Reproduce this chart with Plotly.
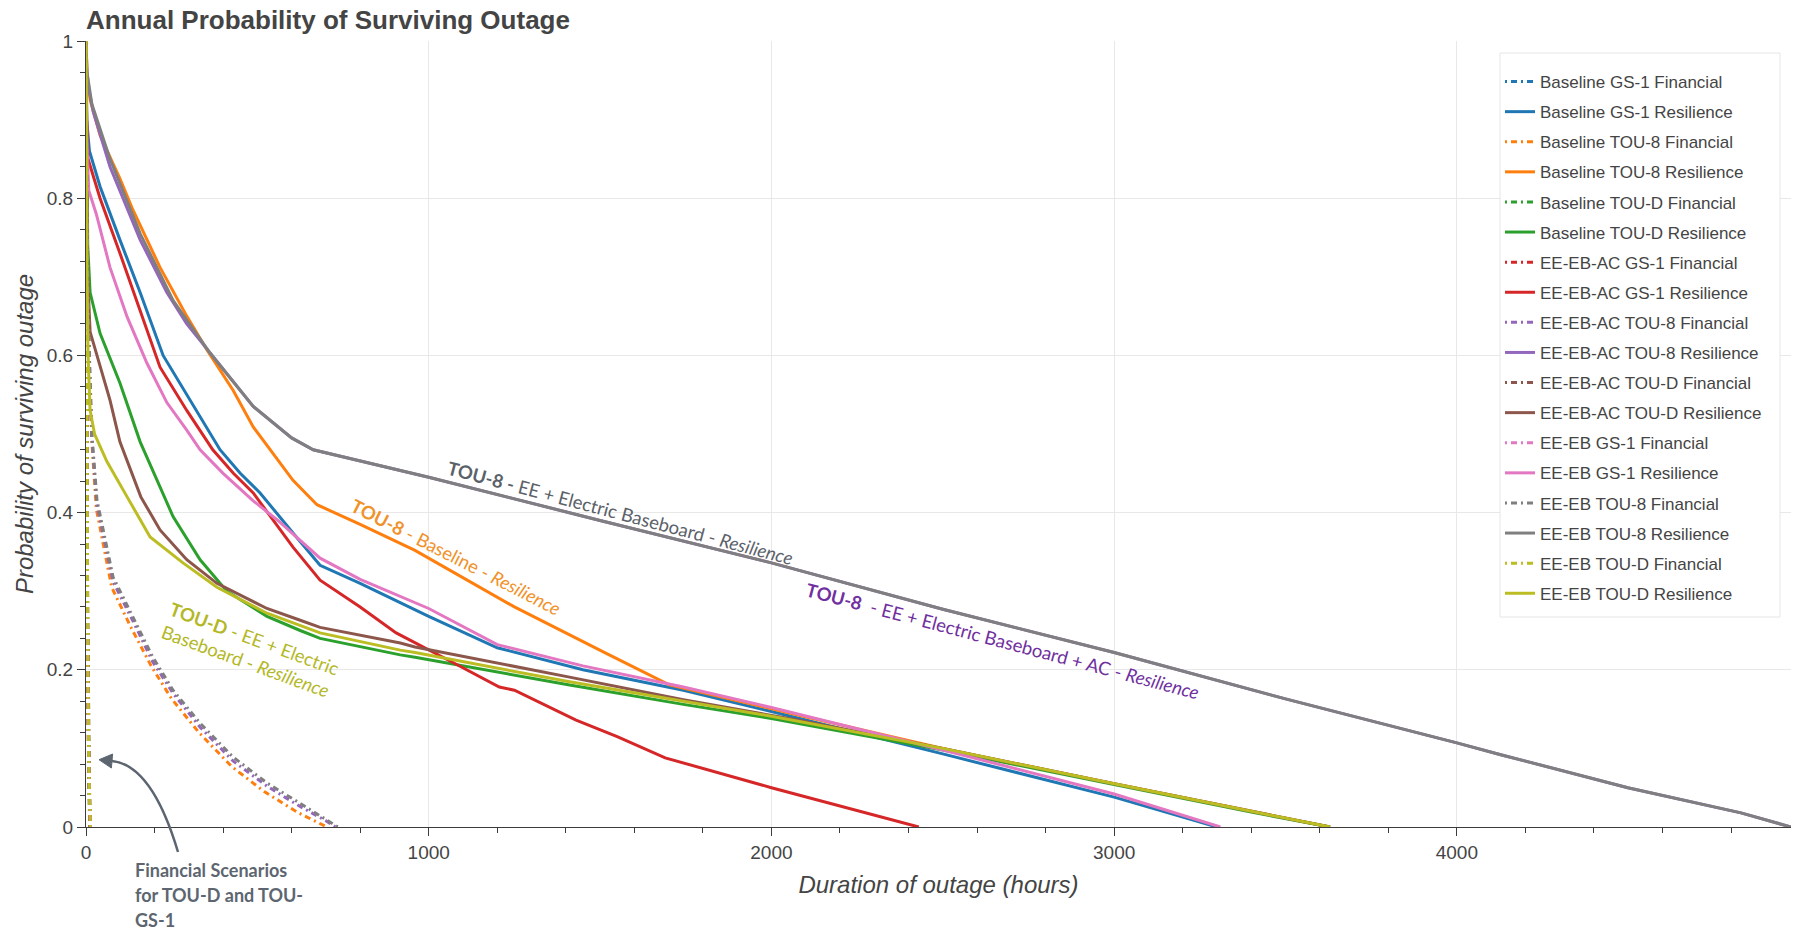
import plotly.graph_objects as go

# ---------------- data: outage duration (hours) vs probability of surviving ----------------
baseline_gs1_fin_h = [0, 1, 2, 4, 6, 9, 12]
baseline_gs1_fin_p = [1, 0.70, 0.50, 0.30, 0.15, 0.05, 0]
baseline_gs1_res_h = [0, 2, 10, 41, 99, 158, 225, 294, 391, 450, 508, 604, 683, 800, 917, 1000,
                      1200, 1450, 1743, 2000, 2500, 3000, 3300]
baseline_gs1_res_p = [1, 0.90, 0.86, 0.815, 0.747, 0.68, 0.60, 0.55, 0.48, 0.45, 0.425, 0.374, 0.333,
                      0.31, 0.285, 0.268, 0.228, 0.20, 0.174, 0.147, 0.093, 0.038, 0]

baseline_tou8_fin_h = [0, 2, 5, 10, 17, 30, 75, 130, 190, 250, 330, 425, 520, 620, 703]
baseline_tou8_fin_p = [1, 0.78, 0.68, 0.58, 0.49, 0.405, 0.305, 0.255, 0.205, 0.163, 0.12, 0.077,
                       0.045, 0.018, 0]
baseline_tou8_res_h = [0, 3, 12, 41, 99, 137, 216, 294, 353, 430, 488, 604, 674, 800, 960, 1250,
                       1518, 1702, 2111, 2500, 3000, 3400, 3630]
baseline_tou8_res_p = [1, 0.96, 0.925, 0.88, 0.825, 0.785, 0.712, 0.65, 0.607, 0.555, 0.509, 0.441,
                       0.41, 0.385, 0.352, 0.28, 0.221, 0.181, 0.139, 0.10, 0.055, 0.02, 0]

baseline_toud_fin_h = [0, 1, 2, 3, 5, 8, 11]
baseline_toud_fin_p = [1, 0.72, 0.55, 0.38, 0.20, 0.06, 0]
baseline_toud_res_h = [0, 2, 5, 12, 41, 99, 158, 254, 333, 411, 528, 625, 683, 917, 960, 1407,
                       1743, 2000, 2500, 3000, 3400, 3630]
baseline_toud_res_p = [1, 0.85, 0.74, 0.68, 0.628, 0.565, 0.49, 0.395, 0.34, 0.30, 0.268, 0.25,
                       0.24, 0.219, 0.216, 0.181, 0.156, 0.138, 0.098, 0.054, 0.019, 0]

eeebac_gs1_fin_h = [0, 1, 2, 4, 6, 8, 11]
eeebac_gs1_fin_p = [1, 0.68, 0.48, 0.28, 0.14, 0.05, 0]
eeebac_gs1_res_h = [0, 2, 6, 41, 99, 158, 216, 294, 370, 430, 488, 604, 683, 800, 905, 1072, 1206,
                    1250, 1430, 1550, 1690, 2000, 2200, 2430]
eeebac_gs1_res_p = [1, 0.90, 0.85, 0.80, 0.73, 0.658, 0.585, 0.53, 0.48, 0.45, 0.425, 0.356, 0.314,
                    0.28, 0.247, 0.209, 0.178, 0.174, 0.136, 0.115, 0.088, 0.05, 0.027, 0]

eeebac_tou8_fin_h = [0, 2, 5, 10, 17, 32, 79, 137, 195, 254, 333, 429, 528, 625, 700, 728]
eeebac_tou8_fin_p = [1, 0.79, 0.69, 0.59, 0.495, 0.41, 0.312, 0.262, 0.21, 0.17, 0.127, 0.084,
                     0.052, 0.026, 0.008, 0]
eeebac_tou8_res_h = [0, 3, 21, 70, 158, 236, 294, 362, 488, 600, 663, 1000, 1500, 2000, 2368, 2500,
                     3000, 3398, 3500, 4000, 4128, 4499, 4829, 4975]
eeebac_tou8_res_p = [1, 0.95, 0.91, 0.84, 0.747, 0.68, 0.64, 0.603, 0.535, 0.495, 0.48, 0.445,
                     0.39, 0.336, 0.293, 0.277, 0.222, 0.175, 0.163, 0.107, 0.092, 0.05, 0.018, 0]

eeebac_toud_fin_h = [0, 1, 3, 5, 7, 10, 13]
eeebac_toud_fin_p = [1, 0.70, 0.45, 0.28, 0.15, 0.05, 0]
eeebac_toud_res_h = [0, 2, 5, 12, 41, 70, 99, 160, 216, 294, 382, 528, 625, 683, 917, 960, 1407,
                     1743, 2076, 2500, 3000, 3400, 3630]
eeebac_toud_res_p = [1, 0.85, 0.70, 0.63, 0.585, 0.543, 0.49, 0.42, 0.378, 0.34, 0.31, 0.278, 0.263,
                     0.254, 0.234, 0.229, 0.191, 0.162, 0.136, 0.10, 0.055, 0.02, 0]

eeeb_gs1_fin_h = [0, 1, 2, 4, 6, 9, 12]
eeeb_gs1_fin_p = [1, 0.66, 0.46, 0.27, 0.13, 0.04, 0]
eeeb_gs1_res_h = [0, 2, 8, 30, 70, 120, 178, 236, 294, 333, 400, 488, 560, 625, 683, 800, 917, 1000,
                  1200, 1450, 1743, 2000, 2500, 3000, 3310]
eeeb_gs1_res_p = [1, 0.88, 0.81, 0.78, 0.712, 0.649, 0.59, 0.54, 0.505, 0.48, 0.45, 0.415, 0.39,
                  0.365, 0.342, 0.315, 0.293, 0.278, 0.232, 0.205, 0.178, 0.152, 0.098, 0.042, 0]

eeeb_tou8_fin_h = [0, 2, 5, 10, 17, 32, 79, 137, 195, 254, 333, 429, 528, 625, 700, 735]
eeeb_tou8_fin_p = [1, 0.80, 0.70, 0.60, 0.50, 0.416, 0.318, 0.267, 0.216, 0.174, 0.132, 0.089,
                   0.056, 0.03, 0.01, 0]
eeeb_tou8_res_h = [0, 3, 17, 70, 158, 254, 362, 488, 600, 663, 1000, 1500, 2000, 2368, 2500, 3000,
                   3398, 3500, 4000, 4128, 4499, 4829, 4975]
eeeb_tou8_res_p = [1, 0.96, 0.92, 0.85, 0.755, 0.67, 0.603, 0.535, 0.495, 0.48, 0.445, 0.39, 0.336,
                   0.293, 0.277, 0.222, 0.175, 0.163, 0.107, 0.092, 0.05, 0.018, 0]

eeeb_toud_fin_h = [0, 1, 2, 4, 6, 9, 13]
eeeb_toud_fin_p = [1, 0.74, 0.56, 0.34, 0.18, 0.06, 0]
eeeb_toud_res_h = [0, 1, 3, 6, 12, 25, 61, 120, 187, 283, 382, 528, 683, 917, 960, 1407, 1743, 2000,
                   2500, 3000, 3400, 3630]
eeeb_toud_res_p = [1, 0.85, 0.70, 0.60, 0.53, 0.50, 0.465, 0.42, 0.369, 0.336, 0.305, 0.272, 0.247,
                   0.225, 0.222, 0.185, 0.16, 0.141, 0.10, 0.055, 0.02, 0]

series = [
    ("Baseline GS-1 Financial", baseline_gs1_fin_h, baseline_gs1_fin_p, "#1f77b4", True),
    ("Baseline GS-1 Resilience", baseline_gs1_res_h, baseline_gs1_res_p, "#1f77b4", False),
    ("Baseline TOU-8 Financial", baseline_tou8_fin_h, baseline_tou8_fin_p, "#ff7f0e", True),
    ("Baseline TOU-8 Resilience", baseline_tou8_res_h, baseline_tou8_res_p, "#ff7f0e", False),
    ("Baseline TOU-D Financial", baseline_toud_fin_h, baseline_toud_fin_p, "#2ca02c", True),
    ("Baseline TOU-D Resilience", baseline_toud_res_h, baseline_toud_res_p, "#2ca02c", False),
    ("EE-EB-AC GS-1 Financial", eeebac_gs1_fin_h, eeebac_gs1_fin_p, "#d62728", True),
    ("EE-EB-AC GS-1 Resilience", eeebac_gs1_res_h, eeebac_gs1_res_p, "#d62728", False),
    ("EE-EB-AC TOU-8 Financial", eeebac_tou8_fin_h, eeebac_tou8_fin_p, "#9467bd", True),
    ("EE-EB-AC TOU-8 Resilience", eeebac_tou8_res_h, eeebac_tou8_res_p, "#9467bd", False),
    ("EE-EB-AC TOU-D Financial", eeebac_toud_fin_h, eeebac_toud_fin_p, "#8c564b", True),
    ("EE-EB-AC TOU-D Resilience", eeebac_toud_res_h, eeebac_toud_res_p, "#8c564b", False),
    ("EE-EB GS-1 Financial", eeeb_gs1_fin_h, eeeb_gs1_fin_p, "#e377c2", True),
    ("EE-EB GS-1 Resilience", eeeb_gs1_res_h, eeeb_gs1_res_p, "#e377c2", False),
    ("EE-EB TOU-8 Financial", eeeb_tou8_fin_h, eeeb_tou8_fin_p, "#7f7f7f", True),
    ("EE-EB TOU-8 Resilience", eeeb_tou8_res_h, eeeb_tou8_res_p, "#7f7f7f", False),
    ("EE-EB TOU-D Financial", eeeb_toud_fin_h, eeeb_toud_fin_p, "#bcbd22", True),
    ("EE-EB TOU-D Resilience", eeeb_toud_res_h, eeeb_toud_res_p, "#bcbd22", False),
]

# ---------------- page geometry ----------------
W, H = 1799, 932
ML, MR, MT, MB = 86, 8, 41, 105
PW, PH = W - ML - MR, H - MT - MB


def px_to_paper(px, py):
    return (px - ML) / PW, (H - MB - py) / PH


AXIS_FONT = "Liberation Sans, Arial, Helvetica, sans-serif"
NOTE_FONT = "Lato, Open Sans, sans-serif"

fig = go.Figure()
for i, (name, hrs, prob, color, financial) in enumerate(series):
    fig.add_trace(go.Scatter(
        x=hrs, y=prob, name=name, mode="lines", legendgroup=f"g{i}",
        line=dict(color=color, width=3,
                  dash="2px,4px,6px,4px" if financial else "solid"),
    ))

x_max = max(max(s[1]) for s in series)

fig.update_layout(
    width=W, height=H,
    margin=dict(l=ML, r=MR, t=MT, b=MB, pad=0),
    paper_bgcolor="white", plot_bgcolor="white",
    title=dict(text="<b>Annual Probability of Surviving Outage</b>",
               x=0, xref="paper", xanchor="left",
               y=1 - 20 / H, yref="container", yanchor="middle",
               font=dict(family=AXIS_FONT, size=26, color="#444444")),
    showlegend=True,
    legend=dict(x=px_to_paper(1500, 0)[0], y=px_to_paper(0, 64)[1],
                xanchor="left", yanchor="top",
                bgcolor="rgba(0,0,0,0)", borderwidth=0,
                font=dict(family=AXIS_FONT, size=17, color="#444444"),
                tracegroupgap=5, traceorder="grouped"),
    xaxis=dict(
        range=[0, x_max], showline=True, linecolor="#3c3c3c", linewidth=1.2,
        ticks="outside", ticklen=8, tickwidth=1, tickcolor="#3c3c3c",
        tickvals=[0, 1000, 2000, 3000, 4000],
        ticktext=["0", "1000", "2000", "3000", "4000"],
        tickfont=dict(family=AXIS_FONT, size=19, color="#444444"),
        showgrid=True, gridcolor="#e8e8e8", gridwidth=1, zeroline=False,
        minor=dict(dtick=200, ticks="outside", ticklen=5, tickcolor="#3c3c3c",
                   showgrid=False),
        title=dict(text="<i>Duration of outage (hours)</i>", standoff=14,
                   font=dict(family=AXIS_FONT, size=24, color="#444444")),
    ),
    yaxis=dict(
        range=[0, 1], showline=True, linecolor="#3c3c3c", linewidth=1.2,
        ticks="outside", ticklen=8, tickwidth=1, tickcolor="#3c3c3c",
        tickvals=[0, 0.2, 0.4, 0.6, 0.8, 1],
        ticktext=["0", "0.2", "0.4", "0.6", "0.8", "1"],
        tickfont=dict(family=AXIS_FONT, size=19, color="#444444"),
        showgrid=True, gridcolor="#e8e8e8", gridwidth=1, zeroline=False,
        minor=dict(dtick=0.04, ticks="outside", ticklen=5, tickcolor="#3c3c3c",
                   showgrid=False),
        title=dict(text="<i>Probability of surviving outage</i>", standoff=6,
                   font=dict(family=AXIS_FONT, size=24, color="#444444")),
    ),
)

# legend frame (white panel with a faint border)
lx0, ly0 = px_to_paper(1500, 617)
lx1, ly1 = px_to_paper(1780, 53)
fig.add_shape(type="rect", xref="paper", yref="paper", layer="above",
              x0=lx0, y0=ly0, x1=lx1, y1=ly1,
              fillcolor="white", line=dict(color="#e6e6e6", width=1))

# ---------------- in-plot labels for the curves ----------------
labels = [
    ("<b>TOU-8 -</b> EE + Electric Baseboard - <i>Resilience</i>", 1560, 0.399, 14.8, "#5b6169"),
    ("<b>TOU-8</b> - Baseline - <i>Resilience</i>", 1080, 0.344, 27, "#f0922b"),
    ("<b>TOU-8</b>\u00a0 - EE + Electric Baseboard + AC - <i>Resilience</i>", 2675, 0.237, 14.8, "#7030a0"),
    ("<b>TOU-D</b> - EE + Electric<br>Baseboard - <i>Resilience</i>", 479, 0.225, 20, "#b3b826"),
]
for text, hx, py, ang, col in labels:
    fig.add_annotation(x=hx, y=py, xref="x", yref="y", text=text, showarrow=False,
                       textangle=ang, align="left", xanchor="center", yanchor="middle",
                       font=dict(family=NOTE_FONT, size=18.5, color=col))

# note under the axis with a curved pointer to the near-vertical financial curves
note_col = "#5d6670"
for line, cy in [("Financial Scenarios", 870), ("for TOU-D and TOU-", 895), ("GS-1", 920)]:
    nx, ny = px_to_paper(133, cy)
    fig.add_annotation(x=nx, y=ny, xref="paper", yref="paper", text=f"<b>{line}</b>",
                       showarrow=False, xanchor="left", yanchor="middle",
                       font=dict(family=NOTE_FONT, size=18, color=note_col))

p0 = px_to_paper(178, 852)
pc = px_to_paper(152, 765)
p1 = px_to_paper(112, 761)
fig.add_shape(type="path", xref="paper", yref="paper", layer="above",
              path=f"M {p0[0]},{p0[1]} Q {pc[0]},{pc[1]} {p1[0]},{p1[1]}",
              line=dict(color=note_col, width=2.5))
tip = px_to_paper(99, 759.7)
b1 = px_to_paper(112.6, 754.0)
b2 = px_to_paper(111.4, 768.0)
fig.add_shape(type="path", xref="paper", yref="paper", layer="above",
              path=f"M {tip[0]},{tip[1]} L {b1[0]},{b1[1]} L {b2[0]},{b2[1]} Z",
              fillcolor=note_col, line=dict(color=note_col, width=1))

fig.write_html("out.html")
